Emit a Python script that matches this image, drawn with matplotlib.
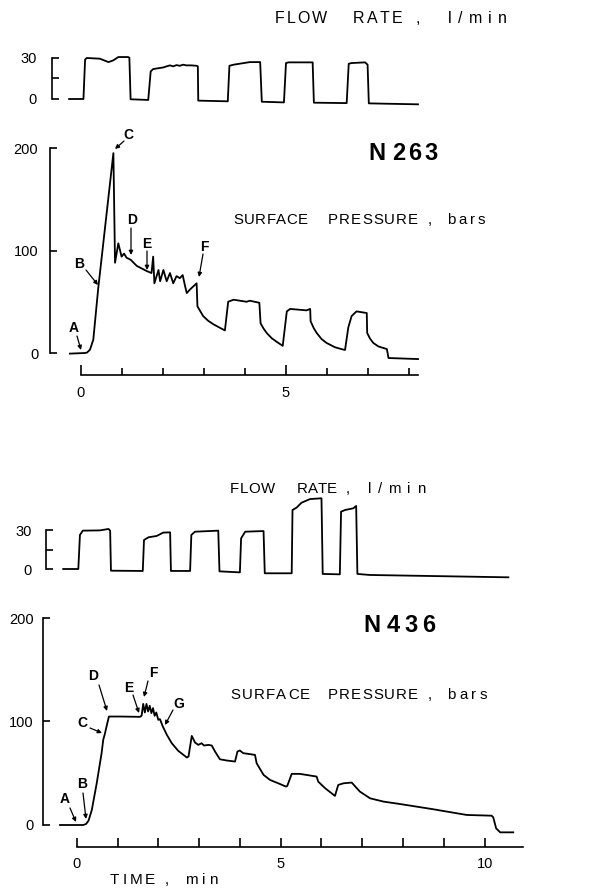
import numpy as np
import matplotlib.pyplot as plt

W, H = 609, 890
plt.rcParams['font.family'] = ['Liberation Sans', 'DejaVu Sans']

# ---- N263 : flow rate (l/min) vs time (min) ----
t_flow1 = [-0.29, 0.06, 0.10, 0.14, 0.46, 0.67, 0.79, 0.91, 1.15, 1.18, 1.21,
           1.64, 1.70, 1.76, 2.01, 2.09, 2.17, 2.25, 2.33, 2.41, 2.49, 2.57, 2.69,
           2.82, 2.85, 2.86, 3.58, 3.62, 3.72, 4.12, 4.37, 4.41, 4.95, 5.00, 5.06,
           5.65, 5.68, 6.48, 6.53, 6.60, 6.93, 6.99, 7.02, 8.22]
q_flow1 = [0, 0, 28.8, 30, 29.5, 27, 28.3, 30.7, 30.7, 30.2, -0.2,
           -0.7, 20.2, 21.9, 23.1, 23.9, 24.6, 23.9, 24.8, 24.3, 25.1, 24.6, 24.6,
           24.3, 23.9, -1.2, -1.7, 24.3, 25.1, 27, 27, -2, -2.5, 26.3, 26.8,
           26.8, -2.7, -3, 25.8, 26.3, 26.8, 25.1, -3.2, -3.9]

# ---- N263 : surface pressure (bars) ----
t_p1 = [-0.27, 0.10, 0.15, 0.22, 0.30, 0.42, 0.79, 0.83, 0.91, 0.99, 1.05, 1.11,
        1.21, 1.36, 1.60, 1.72, 1.76, 1.79, 1.89, 1.93, 2.01, 2.09, 2.17, 2.25,
        2.33, 2.41, 2.48, 2.54, 2.58, 2.66, 2.74, 2.82, 2.84, 2.98, 3.10, 3.23,
        3.51, 3.59, 3.72, 4.04, 4.12, 4.35, 4.38, 4.45, 4.53, 4.65, 4.77, 4.92,
        5.02, 5.10, 5.50, 5.59, 5.60, 5.68, 5.75, 5.87, 5.99, 6.20, 6.40, 6.44,
        6.52, 6.60, 6.72, 6.97, 6.98, 7.05, 7.13, 7.25, 7.37, 7.46, 7.50, 8.22]
p_p1 = [-0.6, 0, 0.5, 3.3, 13, 63, 195, 88, 107, 94, 97, 93,
        91, 85, 80, 78, 94, 68, 81, 70, 81, 70, 78, 68,
        75, 73, 76, 65, 58.5, 62, 65, 68, 45.5, 36, 31.5, 28,
        22, 50, 52, 50, 51, 49, 29, 24, 19.5, 14.5, 11, 7,
        40.6, 43, 41.6, 43, 31, 24, 19.5, 13.5, 9.8, 5.5, 3.3, 3,
        25, 36, 40.6, 39, 19.5, 14, 9.8, 6.5, 4.9, 3.9, -4.9, -5.9]

# ---- N436 : flow rate ----
t_flow2 = [-0.33, 0.04, 0.08, 0.15, 0.57, 0.78, 0.82, 0.84, 1.62, 1.65, 1.76,
           1.96, 2.12, 2.29, 2.31, 2.78, 2.81, 2.90, 3.47, 3.50, 4.00, 4.03,
           4.13, 4.58, 4.61, 5.27, 5.29, 5.39, 5.51, 5.72, 6.00, 6.03, 6.45,
           6.48, 6.58, 6.78, 6.85, 6.88, 7.19, 10.58]
q_flow2 = [0, 0, 26.2, 29.5, 29.7, 30.8, 29.5, -1.3, -1.5, 22.3, 24.4,
           25.4, 28, 28.2, -1.5, -1.5, 26.2, 28.7, 29.5, -1.8, -2.6, 23.6,
           28.7, 29.2, -3.3, -3.3, 45.4, 47.2, 51, 53.8, 54.4, -3.8, -4.1,
           44.1, 45.4, 46.7, 48.5, -3.8, -4.6, -6.4]

# ---- N436 : surface pressure ----
t_p2 = [-0.41, 0.16, 0.23, 0.29, 0.37, 0.49, 0.61, 0.65, 0.69, 0.75, 0.79, 1.06,
        1.55, 1.59, 1.63, 1.67, 1.71, 1.75, 1.79, 1.83, 1.87, 1.91, 1.95, 2.00,
        2.04, 2.11, 2.21, 2.33, 2.49, 2.70, 2.74, 2.82, 2.90, 2.98, 3.06, 3.12,
        3.23, 3.31, 3.39, 3.51, 3.68, 3.88, 3.94, 4.00, 4.08, 4.21, 4.37, 4.41,
        4.58, 4.74, 4.94, 5.13, 5.16, 5.27, 5.47, 5.88, 5.92, 6.09, 6.33, 6.41,
        6.54, 6.74, 6.94, 7.19, 7.52, 7.92, 8.74, 9.56, 10.17, 10.21, 10.28,
        10.38, 10.70]
p_p2 = [0, 0, 1, 4.2, 14.5, 40.3, 69.4, 82.3, 88.1, 98.4, 104.8, 104.8,
        104.5, 105.5, 117, 108.7, 117, 109.7, 115.2, 108.1, 112.9, 105.5, 108.7, 101.6,
        102.3, 95.2, 87.1, 79, 71.6, 65.2, 66.1, 86.1, 79.7, 77.4, 79, 76.8,
        77.4, 76.8, 71, 63.5, 62.3, 61.3, 71, 72, 69.4, 68.7, 67.7, 59.7,
        48.4, 43.5, 40.3, 37.1, 37.7, 49.4, 49.4, 46.8, 41.9, 35.5, 28.1, 38.7,
        40.3, 41, 32.3, 25.8, 22.6, 20.3, 15.2, 9.7, 9, 7.4, -3.2,
        -7.1, -7.1]

fig = plt.figure(figsize=(W / 100, H / 100), dpi=100)
renderer = fig.canvas.get_renderer()


def box(x0, y0, x1, y1):
    # pixel box, origin top-left -> figure fraction rect
    return [x0 / W, 1 - y1 / H, (x1 - x0) / W, (y1 - y0) / H]


def bare(ax):
    for s in ['top', 'right', 'bottom']:
        ax.spines[s].set_visible(False)
    ax.spines['left'].set_linewidth(1.2)
    ax.patch.set_visible(False)
    ax.tick_params(axis='y', direction='in', length=5, width=1.2, labelsize=10.5)


def flow_axes(rect, xlim, ylim, pad):
    ax = fig.add_axes(rect)
    bare(ax)
    ax.set_xlim(*xlim)
    ax.set_ylim(*ylim)
    ax.spines['left'].set_bounds(0, 30)
    ax.set_yticks([0, 15, 30])
    ax.set_yticklabels(['0', '', '30'])
    ax.tick_params(axis='y', pad=pad)
    ax.set_xticks([])
    return ax


def pres_axes(rect, xlim, ylim, pad):
    ax = fig.add_axes(rect)
    bare(ax)
    ax.spines['bottom'].set_visible(True)
    ax.spines['bottom'].set_linewidth(1.2)
    ax.set_xlim(*xlim)
    ax.set_ylim(*ylim)
    ax.spines['left'].set_bounds(0, 200)
    ax.set_yticks([0, 100, 200])
    ax.tick_params(axis='y', pad=pad)
    return ax


# top experiment
axf1 = flow_axes(box(52, 50, 609, 110), (-0.707, 12.878), (-8.05, 35.85), 11)
axf1.plot(t_flow1, q_flow1, color='black', lw=1.3)

axp1 = pres_axes(box(50, 148, 609, 375), (-0.756, 12.878), (-21.46, 200), 8.5)
axp1.plot(t_p1, p_p1, color='black', lw=1.3)
axp1.spines['bottom'].set_bounds(0, 8.22)
axp1.set_xticks([0, 5])
axp1.set_xticks([1, 2, 3, 4, 6, 7, 8], minor=True)
axp1.tick_params(axis='x', which='major', direction='in', length=7, width=1.2,
                 labelsize=10.5, pad=8)
axp1.tick_params(axis='x', which='minor', direction='in', length=5, width=1.2)

# bottom experiment
axf2 = flow_axes(box(46, 490, 609, 580), (-0.752, 13.047), (-8.46, 60.77), 10)
axf2.plot(t_flow2, q_flow2, color='black', lw=1.3)

axp2 = pres_axes(box(43.3, 618, 609, 847), (-0.819, 13.047), (-21.26, 200), 7)
axp2.plot(t_p2, p_p2, color='black', lw=1.3)
axp2.spines['bottom'].set_bounds(0, 10.95)
axp2.set_xticks(range(11))
axp2.set_xticklabels(['0', '', '', '', '', '5', '', '', '', '', '10'])
axp2.tick_params(axis='x', direction='in', length=6.5, width=1.2,
                 labelsize=10.5, pad=7)


def spaced(x0, x1, y, s, size, weight='normal'):
    # lettering-stencil look: spread the characters of s over x0..x1 (pixels)
    arts = [fig.text(0, 1 - y / H, c, fontsize=size, fontweight=weight,
                     ha='left', va='baseline') for c in s]
    widths = [a.get_window_extent(renderer).width for a in arts]
    gap = (x1 - x0 - sum(widths)) / max(len(s) - 1, 1)
    x = x0
    for a, w in zip(arts, widths):
        a.set_x(x / W)
        x += w + gap


def words(pieces, y, size, weight='normal'):
    for x0, x1, s in pieces:
        spaced(x0, x1, y, s, size, weight)


words([(275, 327, 'FLOW'), (353, 402, 'RATE'), (416, 419, ','),
       (448, 507, 'l/min')], 23, 11.5)
words([(233, 308, 'SURFACE'), (328, 418, 'PRESSURE'), (428, 431, ','),
       (447, 485, 'bars')], 224, 10.8)
words([(368, 385, 'N'), (392, 438, '263')], 160, 17, 'bold')

words([(230, 275, 'FLOW'), (297, 337, 'RATE'), (346, 349, ','),
       (368, 425, 'l/min')], 493, 10.8)
words([(230, 310, 'SURFACE'), (328, 418, 'PRESSURE'), (428, 431, ','),
       (447, 487, 'bars')], 699, 10.8)
words([(363, 380, 'N'), (387, 435, '436')], 632, 17, 'bold')
words([(110, 155, 'TIME'), (165, 168, ','), (185, 218, 'min')], 884, 11)

# point labels: letter, centre x, baseline y, arrow start, arrow end (pixels)
marks = [
    ('A', 74, 332, (77, 336), (81, 350)),
    ('B', 79, 268, (86, 270), (98, 285)),
    ('C', 128, 139, (124, 141), (115, 149)),
    ('D', 132, 224, (131, 228), (131, 255)),
    ('E', 147, 248, (147, 251), (147, 270)),
    ('F', 204, 251, (203, 254), (199, 277)),
    ('A', 65, 803, (70, 808), (76, 822)),
    ('B', 82, 788, (83, 793), (86, 819)),
    ('C', 82, 727, (90, 728), (102, 733)),
    ('D', 93, 680, (99, 685), (107, 711)),
    ('E', 129, 692, (133, 695), (139, 713)),
    ('F', 153, 677, (148, 681), (144, 697)),
    ('G', 179, 708, (173, 710), (165, 725)),
]
for lab, x, y, a0, a1 in marks:
    fig.text(x / W, 1 - y / H, lab, fontsize=10, fontweight='bold',
             ha='center', va='baseline')
    axp1.annotate('', xy=(a1[0], H - a1[1]), xytext=(a0[0], H - a0[1]),
                  xycoords='figure pixels', textcoords='figure pixels',
                  arrowprops=dict(arrowstyle='-|>', color='black', lw=0.9,
                                  mutation_scale=6, shrinkA=0, shrinkB=0))

fig.savefig('out.png', dpi=100)
